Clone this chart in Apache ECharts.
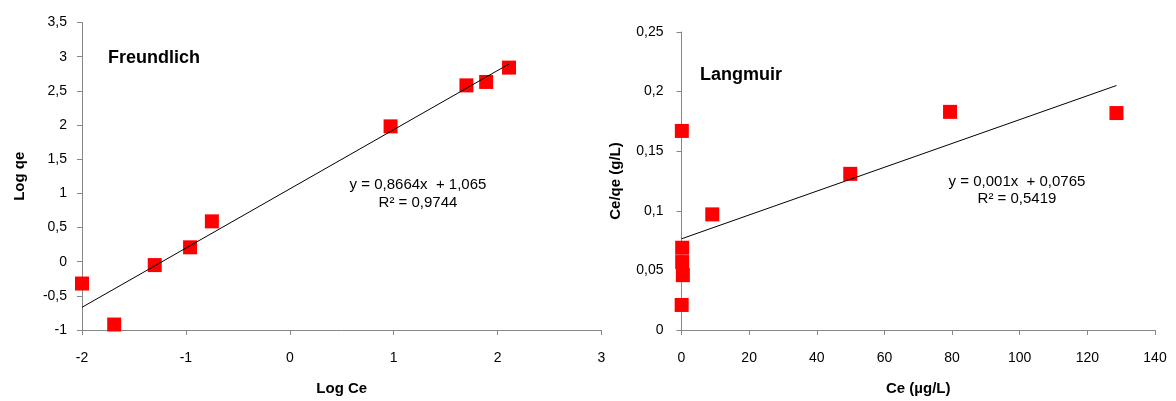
<!DOCTYPE html>
<html>
<head>
<meta charset="utf-8">
<script src="https://cdn.jsdelivr.net/npm/echarts@6/dist/echarts.min.js"></script>
<style>
  html, body { margin: 0; padding: 0; background: #fff; }
  #chart { width: 1176px; height: 401px; }
</style>
</head>
<body>
<div id="chart"></div>
<script>
// Freundlich isotherm (log-log)
const freundlichLogCe = [-2.0, -1.69, -1.30, -0.96, -0.75, 0.97, 1.70, 1.89, 2.11];
const freundlichLogQe = [-0.32, -0.92, -0.05, 0.21, 0.59, 1.98, 2.58, 2.63, 2.84];
const freundlichFit = [0.8664, 1.065];   // slope, intercept
const freundlichR2 = 0.9744;

// Langmuir isotherm (linearised)
const langmuirCe = [0.05, 0.1, 0.2, 0.2, 0.4, 9.1, 49.9, 79.4, 128.6];
const langmuirCeQe = [0.021, 0.167, 0.069, 0.057, 0.046, 0.097, 0.131, 0.183, 0.182];
const langmuirFit = [0.001, 0.0765];     // slope, intercept
const langmuirR2 = 0.5419;

const FONT = 'Arial, "Liberation Sans", sans-serif';
const AXIS_GREY = '#878787';

const comma = v => String(+(+v).toFixed(4)).replace('.', ',');
const zip = (xs, ys) => xs.map((x, i) => [x, ys[i]]);
const fitLine = (xs, fit) => {
  const lo = Math.min(...xs), hi = Math.max(...xs);
  return [[lo, fit[0] * lo + fit[1]], [hi, fit[0] * hi + fit[1]]];
};
const eqText = (fit, r2) =>
  'y = ' + comma(fit[0]) + 'x  + ' + comma(fit[1]) + '\nR² = ' + comma(r2);

const tickLabel = margin => ({ color: '#000', fontSize: 14, fontFamily: FONT, formatter: comma, margin });

function valueAxis(extra) {
  return Object.assign({
    type: 'value',
    axisLine: { show: true, onZero: false, lineStyle: { color: AXIS_GREY, width: 1 } },
    axisTick: { show: true, inside: false, length: 5, lineStyle: { color: AXIS_GREY } },
    splitLine: { show: false },
    nameLocation: 'middle',
    nameTextStyle: { color: '#000', fontSize: 15, fontWeight: 'bold', fontFamily: FONT }
  }, extra);
}

const marker = { symbol: 'rect', symbolSize: 14, itemStyle: { color: '#ff0000', opacity: 1 } };
const trend = { type: 'line', showSymbol: false, silent: true, lineStyle: { color: '#000', width: 1 }, z: 3 };

const chart = echarts.init(document.getElementById('chart'), null, { renderer: 'canvas' });
chart.setOption({
  animation: false,
  backgroundColor: '#fff',
  title: [
    { text: 'Freundlich', left: 108, top: 49, padding: 0,
      textStyle: { fontSize: 18, fontWeight: 'bold', color: '#000', fontFamily: FONT } },
    { text: 'Langmuir', left: 700, top: 66, padding: 0,
      textStyle: { fontSize: 18, fontWeight: 'bold', color: '#000', fontFamily: FONT } }
  ],
  grid: [
    { left: 82, top: 22.5, width: 519.5, height: 313.5 },
    { left: 681.5, top: 32, width: 473.5, height: 304 }
  ],
  xAxis: [
    valueAxis({ gridIndex: 0, min: -2, max: 3, interval: 1, name: 'Log Ce', nameGap: 51, axisLabel: tickLabel(21) }),
    valueAxis({ gridIndex: 1, min: 0, max: 140, interval: 20, name: 'Ce (µg/L)', nameGap: 51, axisLabel: tickLabel(21) })
  ],
  yAxis: [
    valueAxis({ gridIndex: 0, min: -1, max: 3.5, interval: 0.5, name: 'Log qe', nameGap: 55, axisLabel: tickLabel(15) }),
    valueAxis({ gridIndex: 1, min: 0, max: 0.25, interval: 0.05, name: 'Ce/qe (g/L)', nameGap: 58, axisLabel: tickLabel(18) })
  ],
  series: [
    Object.assign({ type: 'scatter', xAxisIndex: 0, yAxisIndex: 0, z: 2,
      data: zip(freundlichLogCe, freundlichLogQe) }, marker),
    Object.assign({ xAxisIndex: 0, yAxisIndex: 0, data: fitLine(freundlichLogCe, freundlichFit) }, trend),
    Object.assign({ type: 'scatter', xAxisIndex: 1, yAxisIndex: 1, z: 2,
      data: zip(langmuirCe, langmuirCeQe) }, marker),
    Object.assign({ xAxisIndex: 1, yAxisIndex: 1, data: fitLine(langmuirCe, langmuirFit) }, trend)
  ],
  graphic: [
    { type: 'text', x: 418, y: 193.5, z: 10,
      style: { text: eqText(freundlichFit, freundlichR2), align: 'center', verticalAlign: 'middle',
        font: '15px ' + FONT, fill: '#000', lineHeight: 18 } },
    { type: 'text', x: 1017, y: 190.5, z: 10,
      style: { text: eqText(langmuirFit, langmuirR2), align: 'center', verticalAlign: 'middle',
        font: '15px ' + FONT, fill: '#000', lineHeight: 17 } }
  ]
});
</script>
</body>
</html>
